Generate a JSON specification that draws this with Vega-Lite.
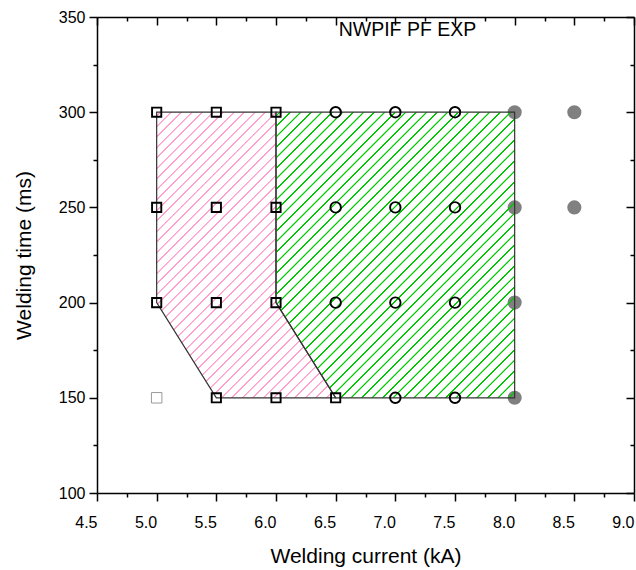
{
  "$schema": "https://vega.github.io/schema/vega-lite/v6.json",
  "width": 537,
  "height": 476,
  "autosize": {"type": "none"},
  "padding": {"left": 97, "top": 17, "right": 2, "bottom": 77},
  "background": "white",
  "config": {"view": {"stroke": null}, "font": "Liberation Sans"},
  "title": {"text": "NWPIF PF EXP", "anchor": "middle", "dx": 42, "dy": 29, "offset": -17, "baseline": "alphabetic", "fontSize": 19.5, "fontWeight": "normal", "color": "#000", "font": "Liberation Sans"},
  "datasets": {
    "pink": [
      {"y": 150, "x": 5.5, "x2": 6.5},
      {"y": 200, "x": 5.0, "x2": 6.0},
      {"y": 300, "x": 5.0, "x2": 6.0}
    ],
    "green": [
      {"y": 150, "x": 6.5, "x2": 8.0},
      {"y": 200, "x": 6.0, "x2": 8.0},
      {"y": 300, "x": 6.0, "x2": 8.0}
    ],
    "points": [
      {"x": 5.0, "y": 300, "kind": "square"},
      {"x": 5.0, "y": 250, "kind": "square"},
      {"x": 5.0, "y": 200, "kind": "square"},
      {"x": 5.0, "y": 150, "kind": "greysquare"},
      {"x": 5.5, "y": 300, "kind": "square"},
      {"x": 5.5, "y": 250, "kind": "square"},
      {"x": 5.5, "y": 200, "kind": "square"},
      {"x": 5.5, "y": 150, "kind": "square"},
      {"x": 6.0, "y": 300, "kind": "square"},
      {"x": 6.0, "y": 250, "kind": "square"},
      {"x": 6.0, "y": 200, "kind": "square"},
      {"x": 6.0, "y": 150, "kind": "square"},
      {"x": 6.5, "y": 150, "kind": "square"},
      {"x": 6.5, "y": 300, "kind": "circle"},
      {"x": 6.5, "y": 250, "kind": "circle"},
      {"x": 6.5, "y": 200, "kind": "circle"},
      {"x": 7.0, "y": 300, "kind": "circle"},
      {"x": 7.0, "y": 250, "kind": "circle"},
      {"x": 7.0, "y": 200, "kind": "circle"},
      {"x": 7.0, "y": 150, "kind": "circle"},
      {"x": 7.5, "y": 300, "kind": "circle"},
      {"x": 7.5, "y": 250, "kind": "circle"},
      {"x": 7.5, "y": 200, "kind": "circle"},
      {"x": 7.5, "y": 150, "kind": "circle"},
      {"x": 8.0, "y": 300, "kind": "filled"},
      {"x": 8.0, "y": 250, "kind": "filled"},
      {"x": 8.0, "y": 200, "kind": "filled"},
      {"x": 8.0, "y": 150, "kind": "filled"},
      {"x": 8.5, "y": 300, "kind": "filled"},
      {"x": 8.5, "y": 250, "kind": "filled"}
    ]
  },
  "layer": [
    {
      "data": {"name": "points"},
      "transform": [{"filter": "datum.kind === 'filled'"}],
      "mark": {"type": "point", "shape": "circle", "filled": true, "size": 200, "color": "#808080", "opacity": 1},
      "encoding": {
        "x": {"field": "x", "type": "quantitative", "scale": {"domain": [4.5, 9], "nice": false, "zero": false},
          "axis": {"orient": "bottom", "values": [4.5,4.75,5,5.25,5.5,5.75,6,6.25,6.5,6.75,7,7.25,7.5,7.75,8,8.25,8.5,8.75,9],
            "tickSize": {"condition": {"test": "round(datum.value*2) == datum.value*2", "value": 8}, "value": 4},
            "labelExpr": "round(datum.value*2) == datum.value*2 ? format(datum.value, '.1f') : ''",
            "labelAlign": "right", "labelFlush": false, "labelOverlap": false, "labelFontSize": 16, "labelColor": "#000", "labelPadding": 13,
            "tickColor": "#000", "tickWidth": 1.5, "domainColor": "#000", "domainWidth": 1.5, "grid": false,
            "title": "Welding current (kA)", "titleFontSize": 21, "titleFontWeight": "normal", "titleColor": "#000", "titlePadding": 15}},
        "y": {"field": "y", "type": "quantitative", "scale": {"domain": [100, 350], "nice": false, "zero": false},
          "axis": {"orient": "left", "values": [100,125,150,175,200,225,250,275,300,325,350],
            "tickSize": {"condition": {"test": "datum.value % 50 == 0", "value": 8}, "value": 4},
            "labelExpr": "datum.value % 50 == 0 ? '' + datum.value : ''",
            "labelFlush": false, "labelOverlap": false, "labelFontSize": 16, "labelColor": "#000", "labelPadding": 4, "labelBaseline": "middle",
            "tickColor": "#000", "tickWidth": 1.5, "domainColor": "#000", "domainWidth": 1.5, "grid": false,
            "title": "Welding time (ms)", "titleFontSize": 21, "titleFontWeight": "normal", "titleColor": "#000", "titlePadding": 24}}
      }
    },
    {
      "data": {"name": "pink"},
      "mark": {"type": "area", "orient": "horizontal", "interpolate": "linear", "stroke": "#333333", "strokeWidth": 1.2,
        "fill": {"gradient": "linear", "x1": 0, "y1": 0, "x2": 0.8272, "y2": 1.3198, "stops": [
{"offset":0.005,"color":"#ffa0d000"},{"offset":0.0058,"color":"#ffa0d0"},{"offset":0.0086,"color":"#ffa0d0"},{"offset":0.0094,"color":"#ffa0d000"},
{"offset":0.025,"color":"#ffa0d000"},{"offset":0.0258,"color":"#ffa0d0"},{"offset":0.0286,"color":"#ffa0d0"},{"offset":0.0294,"color":"#ffa0d000"},
{"offset":0.045,"color":"#ffa0d000"},{"offset":0.0458,"color":"#ffa0d0"},{"offset":0.0486,"color":"#ffa0d0"},{"offset":0.0494,"color":"#ffa0d000"},
{"offset":0.065,"color":"#ffa0d000"},{"offset":0.0658,"color":"#ffa0d0"},{"offset":0.0686,"color":"#ffa0d0"},{"offset":0.0694,"color":"#ffa0d000"},
{"offset":0.085,"color":"#ffa0d000"},{"offset":0.0858,"color":"#ffa0d0"},{"offset":0.0886,"color":"#ffa0d0"},{"offset":0.0894,"color":"#ffa0d000"},
{"offset":0.105,"color":"#ffa0d000"},{"offset":0.1058,"color":"#ffa0d0"},{"offset":0.1086,"color":"#ffa0d0"},{"offset":0.1094,"color":"#ffa0d000"},
{"offset":0.125,"color":"#ffa0d000"},{"offset":0.1258,"color":"#ffa0d0"},{"offset":0.1286,"color":"#ffa0d0"},{"offset":0.1294,"color":"#ffa0d000"},
{"offset":0.145,"color":"#ffa0d000"},{"offset":0.1458,"color":"#ffa0d0"},{"offset":0.1486,"color":"#ffa0d0"},{"offset":0.1494,"color":"#ffa0d000"},
{"offset":0.165,"color":"#ffa0d000"},{"offset":0.1658,"color":"#ffa0d0"},{"offset":0.1686,"color":"#ffa0d0"},{"offset":0.1694,"color":"#ffa0d000"},
{"offset":0.185,"color":"#ffa0d000"},{"offset":0.1858,"color":"#ffa0d0"},{"offset":0.1886,"color":"#ffa0d0"},{"offset":0.1894,"color":"#ffa0d000"},
{"offset":0.205,"color":"#ffa0d000"},{"offset":0.2058,"color":"#ffa0d0"},{"offset":0.2086,"color":"#ffa0d0"},{"offset":0.2094,"color":"#ffa0d000"},
{"offset":0.225,"color":"#ffa0d000"},{"offset":0.2258,"color":"#ffa0d0"},{"offset":0.2286,"color":"#ffa0d0"},{"offset":0.2294,"color":"#ffa0d000"},
{"offset":0.245,"color":"#ffa0d000"},{"offset":0.2458,"color":"#ffa0d0"},{"offset":0.2486,"color":"#ffa0d0"},{"offset":0.2494,"color":"#ffa0d000"},
{"offset":0.265,"color":"#ffa0d000"},{"offset":0.2658,"color":"#ffa0d0"},{"offset":0.2686,"color":"#ffa0d0"},{"offset":0.2694,"color":"#ffa0d000"},
{"offset":0.285,"color":"#ffa0d000"},{"offset":0.2858,"color":"#ffa0d0"},{"offset":0.2886,"color":"#ffa0d0"},{"offset":0.2894,"color":"#ffa0d000"},
{"offset":0.305,"color":"#ffa0d000"},{"offset":0.3058,"color":"#ffa0d0"},{"offset":0.3086,"color":"#ffa0d0"},{"offset":0.3094,"color":"#ffa0d000"},
{"offset":0.325,"color":"#ffa0d000"},{"offset":0.3258,"color":"#ffa0d0"},{"offset":0.3286,"color":"#ffa0d0"},{"offset":0.3294,"color":"#ffa0d000"},
{"offset":0.345,"color":"#ffa0d000"},{"offset":0.3458,"color":"#ffa0d0"},{"offset":0.3486,"color":"#ffa0d0"},{"offset":0.3494,"color":"#ffa0d000"},
{"offset":0.365,"color":"#ffa0d000"},{"offset":0.3658,"color":"#ffa0d0"},{"offset":0.3686,"color":"#ffa0d0"},{"offset":0.3694,"color":"#ffa0d000"},
{"offset":0.385,"color":"#ffa0d000"},{"offset":0.3858,"color":"#ffa0d0"},{"offset":0.3886,"color":"#ffa0d0"},{"offset":0.3894,"color":"#ffa0d000"},
{"offset":0.405,"color":"#ffa0d000"},{"offset":0.4058,"color":"#ffa0d0"},{"offset":0.4086,"color":"#ffa0d0"},{"offset":0.4094,"color":"#ffa0d000"},
{"offset":0.425,"color":"#ffa0d000"},{"offset":0.4258,"color":"#ffa0d0"},{"offset":0.4286,"color":"#ffa0d0"},{"offset":0.4294,"color":"#ffa0d000"},
{"offset":0.445,"color":"#ffa0d000"},{"offset":0.4458,"color":"#ffa0d0"},{"offset":0.4486,"color":"#ffa0d0"},{"offset":0.4494,"color":"#ffa0d000"},
{"offset":0.465,"color":"#ffa0d000"},{"offset":0.4658,"color":"#ffa0d0"},{"offset":0.4686,"color":"#ffa0d0"},{"offset":0.4694,"color":"#ffa0d000"},
{"offset":0.485,"color":"#ffa0d000"},{"offset":0.4858,"color":"#ffa0d0"},{"offset":0.4886,"color":"#ffa0d0"},{"offset":0.4894,"color":"#ffa0d000"},
{"offset":0.505,"color":"#ffa0d000"},{"offset":0.5058,"color":"#ffa0d0"},{"offset":0.5086,"color":"#ffa0d0"},{"offset":0.5094,"color":"#ffa0d000"},
{"offset":0.525,"color":"#ffa0d000"},{"offset":0.5258,"color":"#ffa0d0"},{"offset":0.5286,"color":"#ffa0d0"},{"offset":0.5294,"color":"#ffa0d000"},
{"offset":0.545,"color":"#ffa0d000"},{"offset":0.5458,"color":"#ffa0d0"},{"offset":0.5486,"color":"#ffa0d0"},{"offset":0.5494,"color":"#ffa0d000"},
{"offset":0.565,"color":"#ffa0d000"},{"offset":0.5658,"color":"#ffa0d0"},{"offset":0.5686,"color":"#ffa0d0"},{"offset":0.5694,"color":"#ffa0d000"},
{"offset":0.585,"color":"#ffa0d000"},{"offset":0.5858,"color":"#ffa0d0"},{"offset":0.5886,"color":"#ffa0d0"},{"offset":0.5894,"color":"#ffa0d000"},
{"offset":0.605,"color":"#ffa0d000"},{"offset":0.6058,"color":"#ffa0d0"},{"offset":0.6086,"color":"#ffa0d0"},{"offset":0.6094,"color":"#ffa0d000"},
{"offset":0.625,"color":"#ffa0d000"},{"offset":0.6258,"color":"#ffa0d0"},{"offset":0.6286,"color":"#ffa0d0"},{"offset":0.6294,"color":"#ffa0d000"},
{"offset":0.645,"color":"#ffa0d000"},{"offset":0.6458,"color":"#ffa0d0"},{"offset":0.6486,"color":"#ffa0d0"},{"offset":0.6494,"color":"#ffa0d000"},
{"offset":0.665,"color":"#ffa0d000"},{"offset":0.6658,"color":"#ffa0d0"},{"offset":0.6686,"color":"#ffa0d0"},{"offset":0.6694,"color":"#ffa0d000"},
{"offset":0.685,"color":"#ffa0d000"},{"offset":0.6858,"color":"#ffa0d0"},{"offset":0.6886,"color":"#ffa0d0"},{"offset":0.6894,"color":"#ffa0d000"},
{"offset":0.705,"color":"#ffa0d000"},{"offset":0.7058,"color":"#ffa0d0"},{"offset":0.7086,"color":"#ffa0d0"},{"offset":0.7094,"color":"#ffa0d000"},
{"offset":0.725,"color":"#ffa0d000"},{"offset":0.7258,"color":"#ffa0d0"},{"offset":0.7286,"color":"#ffa0d0"},{"offset":0.7294,"color":"#ffa0d000"},
{"offset":0.745,"color":"#ffa0d000"},{"offset":0.7458,"color":"#ffa0d0"},{"offset":0.7486,"color":"#ffa0d0"},{"offset":0.7494,"color":"#ffa0d000"},
{"offset":0.765,"color":"#ffa0d000"},{"offset":0.7658,"color":"#ffa0d0"},{"offset":0.7686,"color":"#ffa0d0"},{"offset":0.7694,"color":"#ffa0d000"},
{"offset":0.785,"color":"#ffa0d000"},{"offset":0.7858,"color":"#ffa0d0"},{"offset":0.7886,"color":"#ffa0d0"},{"offset":0.7894,"color":"#ffa0d000"},
{"offset":0.805,"color":"#ffa0d000"},{"offset":0.8058,"color":"#ffa0d0"},{"offset":0.8086,"color":"#ffa0d0"},{"offset":0.8094,"color":"#ffa0d000"},
{"offset":0.825,"color":"#ffa0d000"},{"offset":0.8258,"color":"#ffa0d0"},{"offset":0.8286,"color":"#ffa0d0"},{"offset":0.8294,"color":"#ffa0d000"},
{"offset":0.845,"color":"#ffa0d000"},{"offset":0.8458,"color":"#ffa0d0"},{"offset":0.8486,"color":"#ffa0d0"},{"offset":0.8494,"color":"#ffa0d000"},
{"offset":0.865,"color":"#ffa0d000"},{"offset":0.8658,"color":"#ffa0d0"},{"offset":0.8686,"color":"#ffa0d0"},{"offset":0.8694,"color":"#ffa0d000"},
{"offset":0.885,"color":"#ffa0d000"},{"offset":0.8858,"color":"#ffa0d0"},{"offset":0.8886,"color":"#ffa0d0"},{"offset":0.8894,"color":"#ffa0d000"},
{"offset":0.905,"color":"#ffa0d000"},{"offset":0.9058,"color":"#ffa0d0"},{"offset":0.9086,"color":"#ffa0d0"},{"offset":0.9094,"color":"#ffa0d000"},
{"offset":0.925,"color":"#ffa0d000"},{"offset":0.9258,"color":"#ffa0d0"},{"offset":0.9286,"color":"#ffa0d0"},{"offset":0.9294,"color":"#ffa0d000"},
{"offset":0.945,"color":"#ffa0d000"},{"offset":0.9458,"color":"#ffa0d0"},{"offset":0.9486,"color":"#ffa0d0"},{"offset":0.9494,"color":"#ffa0d000"},
{"offset":0.965,"color":"#ffa0d000"},{"offset":0.9658,"color":"#ffa0d0"},{"offset":0.9686,"color":"#ffa0d0"},{"offset":0.9694,"color":"#ffa0d000"},
{"offset":0.985,"color":"#ffa0d000"},{"offset":0.9858,"color":"#ffa0d0"},{"offset":0.9886,"color":"#ffa0d0"},{"offset":0.9894,"color":"#ffa0d000"}
        ]}},
      "encoding": {
        "y": {"field": "y", "type": "quantitative", "scale": {"domain": [100, 350], "nice": false, "zero": false},
          "axis": {"orient": "right", "values": [100,125,150,175,200,225,250,275,300,325,350],
            "tickSize": {"condition": {"test": "datum.value % 50 == 0", "value": -8}, "value": -4},
            "labels": false, "tickColor": "#000", "tickWidth": 1.5, "domainColor": "#000", "domainWidth": 1.5, "grid": false, "title": null}},
        "x": {"field": "x", "type": "quantitative", "scale": {"domain": [4.5, 9], "nice": false, "zero": false},
          "axis": {"orient": "top", "values": [4.5,4.75,5,5.25,5.5,5.75,6,6.25,6.5,6.75,7,7.25,7.5,7.75,8,8.25,8.5,8.75,9],
            "tickSize": {"condition": {"test": "round(datum.value*2) == datum.value*2", "value": -8}, "value": -4},
            "labels": false, "tickColor": "#000", "tickWidth": 1.5, "domainColor": "#000", "domainWidth": 1.5, "grid": false, "title": null}},
        "x2": {"field": "x2"}
      }
    },
    {
      "data": {"name": "green"},
      "mark": {"type": "area", "orient": "horizontal", "interpolate": "linear", "stroke": "#333333", "strokeWidth": 1.2,
        "fill": {"gradient": "linear", "x1": 0, "y1": 0, "x2": 0.9045, "y2": 1.0822, "stops": [
{"offset":0.005,"color":"#00c80000"},{"offset":0.0058,"color":"#00c800"},{"offset":0.0086,"color":"#00c800"},{"offset":0.0094,"color":"#00c80000"},
{"offset":0.025,"color":"#00c80000"},{"offset":0.0258,"color":"#00c800"},{"offset":0.0286,"color":"#00c800"},{"offset":0.0294,"color":"#00c80000"},
{"offset":0.045,"color":"#00c80000"},{"offset":0.0458,"color":"#00c800"},{"offset":0.0486,"color":"#00c800"},{"offset":0.0494,"color":"#00c80000"},
{"offset":0.065,"color":"#00c80000"},{"offset":0.0658,"color":"#00c800"},{"offset":0.0686,"color":"#00c800"},{"offset":0.0694,"color":"#00c80000"},
{"offset":0.085,"color":"#00c80000"},{"offset":0.0858,"color":"#00c800"},{"offset":0.0886,"color":"#00c800"},{"offset":0.0894,"color":"#00c80000"},
{"offset":0.105,"color":"#00c80000"},{"offset":0.1058,"color":"#00c800"},{"offset":0.1086,"color":"#00c800"},{"offset":0.1094,"color":"#00c80000"},
{"offset":0.125,"color":"#00c80000"},{"offset":0.1258,"color":"#00c800"},{"offset":0.1286,"color":"#00c800"},{"offset":0.1294,"color":"#00c80000"},
{"offset":0.145,"color":"#00c80000"},{"offset":0.1458,"color":"#00c800"},{"offset":0.1486,"color":"#00c800"},{"offset":0.1494,"color":"#00c80000"},
{"offset":0.165,"color":"#00c80000"},{"offset":0.1658,"color":"#00c800"},{"offset":0.1686,"color":"#00c800"},{"offset":0.1694,"color":"#00c80000"},
{"offset":0.185,"color":"#00c80000"},{"offset":0.1858,"color":"#00c800"},{"offset":0.1886,"color":"#00c800"},{"offset":0.1894,"color":"#00c80000"},
{"offset":0.205,"color":"#00c80000"},{"offset":0.2058,"color":"#00c800"},{"offset":0.2086,"color":"#00c800"},{"offset":0.2094,"color":"#00c80000"},
{"offset":0.225,"color":"#00c80000"},{"offset":0.2258,"color":"#00c800"},{"offset":0.2286,"color":"#00c800"},{"offset":0.2294,"color":"#00c80000"},
{"offset":0.245,"color":"#00c80000"},{"offset":0.2458,"color":"#00c800"},{"offset":0.2486,"color":"#00c800"},{"offset":0.2494,"color":"#00c80000"},
{"offset":0.265,"color":"#00c80000"},{"offset":0.2658,"color":"#00c800"},{"offset":0.2686,"color":"#00c800"},{"offset":0.2694,"color":"#00c80000"},
{"offset":0.285,"color":"#00c80000"},{"offset":0.2858,"color":"#00c800"},{"offset":0.2886,"color":"#00c800"},{"offset":0.2894,"color":"#00c80000"},
{"offset":0.305,"color":"#00c80000"},{"offset":0.3058,"color":"#00c800"},{"offset":0.3086,"color":"#00c800"},{"offset":0.3094,"color":"#00c80000"},
{"offset":0.325,"color":"#00c80000"},{"offset":0.3258,"color":"#00c800"},{"offset":0.3286,"color":"#00c800"},{"offset":0.3294,"color":"#00c80000"},
{"offset":0.345,"color":"#00c80000"},{"offset":0.3458,"color":"#00c800"},{"offset":0.3486,"color":"#00c800"},{"offset":0.3494,"color":"#00c80000"},
{"offset":0.365,"color":"#00c80000"},{"offset":0.3658,"color":"#00c800"},{"offset":0.3686,"color":"#00c800"},{"offset":0.3694,"color":"#00c80000"},
{"offset":0.385,"color":"#00c80000"},{"offset":0.3858,"color":"#00c800"},{"offset":0.3886,"color":"#00c800"},{"offset":0.3894,"color":"#00c80000"},
{"offset":0.405,"color":"#00c80000"},{"offset":0.4058,"color":"#00c800"},{"offset":0.4086,"color":"#00c800"},{"offset":0.4094,"color":"#00c80000"},
{"offset":0.425,"color":"#00c80000"},{"offset":0.4258,"color":"#00c800"},{"offset":0.4286,"color":"#00c800"},{"offset":0.4294,"color":"#00c80000"},
{"offset":0.445,"color":"#00c80000"},{"offset":0.4458,"color":"#00c800"},{"offset":0.4486,"color":"#00c800"},{"offset":0.4494,"color":"#00c80000"},
{"offset":0.465,"color":"#00c80000"},{"offset":0.4658,"color":"#00c800"},{"offset":0.4686,"color":"#00c800"},{"offset":0.4694,"color":"#00c80000"},
{"offset":0.485,"color":"#00c80000"},{"offset":0.4858,"color":"#00c800"},{"offset":0.4886,"color":"#00c800"},{"offset":0.4894,"color":"#00c80000"},
{"offset":0.505,"color":"#00c80000"},{"offset":0.5058,"color":"#00c800"},{"offset":0.5086,"color":"#00c800"},{"offset":0.5094,"color":"#00c80000"},
{"offset":0.525,"color":"#00c80000"},{"offset":0.5258,"color":"#00c800"},{"offset":0.5286,"color":"#00c800"},{"offset":0.5294,"color":"#00c80000"},
{"offset":0.545,"color":"#00c80000"},{"offset":0.5458,"color":"#00c800"},{"offset":0.5486,"color":"#00c800"},{"offset":0.5494,"color":"#00c80000"},
{"offset":0.565,"color":"#00c80000"},{"offset":0.5658,"color":"#00c800"},{"offset":0.5686,"color":"#00c800"},{"offset":0.5694,"color":"#00c80000"},
{"offset":0.585,"color":"#00c80000"},{"offset":0.5858,"color":"#00c800"},{"offset":0.5886,"color":"#00c800"},{"offset":0.5894,"color":"#00c80000"},
{"offset":0.605,"color":"#00c80000"},{"offset":0.6058,"color":"#00c800"},{"offset":0.6086,"color":"#00c800"},{"offset":0.6094,"color":"#00c80000"},
{"offset":0.625,"color":"#00c80000"},{"offset":0.6258,"color":"#00c800"},{"offset":0.6286,"color":"#00c800"},{"offset":0.6294,"color":"#00c80000"},
{"offset":0.645,"color":"#00c80000"},{"offset":0.6458,"color":"#00c800"},{"offset":0.6486,"color":"#00c800"},{"offset":0.6494,"color":"#00c80000"},
{"offset":0.665,"color":"#00c80000"},{"offset":0.6658,"color":"#00c800"},{"offset":0.6686,"color":"#00c800"},{"offset":0.6694,"color":"#00c80000"},
{"offset":0.685,"color":"#00c80000"},{"offset":0.6858,"color":"#00c800"},{"offset":0.6886,"color":"#00c800"},{"offset":0.6894,"color":"#00c80000"},
{"offset":0.705,"color":"#00c80000"},{"offset":0.7058,"color":"#00c800"},{"offset":0.7086,"color":"#00c800"},{"offset":0.7094,"color":"#00c80000"},
{"offset":0.725,"color":"#00c80000"},{"offset":0.7258,"color":"#00c800"},{"offset":0.7286,"color":"#00c800"},{"offset":0.7294,"color":"#00c80000"},
{"offset":0.745,"color":"#00c80000"},{"offset":0.7458,"color":"#00c800"},{"offset":0.7486,"color":"#00c800"},{"offset":0.7494,"color":"#00c80000"},
{"offset":0.765,"color":"#00c80000"},{"offset":0.7658,"color":"#00c800"},{"offset":0.7686,"color":"#00c800"},{"offset":0.7694,"color":"#00c80000"},
{"offset":0.785,"color":"#00c80000"},{"offset":0.7858,"color":"#00c800"},{"offset":0.7886,"color":"#00c800"},{"offset":0.7894,"color":"#00c80000"},
{"offset":0.805,"color":"#00c80000"},{"offset":0.8058,"color":"#00c800"},{"offset":0.8086,"color":"#00c800"},{"offset":0.8094,"color":"#00c80000"},
{"offset":0.825,"color":"#00c80000"},{"offset":0.8258,"color":"#00c800"},{"offset":0.8286,"color":"#00c800"},{"offset":0.8294,"color":"#00c80000"},
{"offset":0.845,"color":"#00c80000"},{"offset":0.8458,"color":"#00c800"},{"offset":0.8486,"color":"#00c800"},{"offset":0.8494,"color":"#00c80000"},
{"offset":0.865,"color":"#00c80000"},{"offset":0.8658,"color":"#00c800"},{"offset":0.8686,"color":"#00c800"},{"offset":0.8694,"color":"#00c80000"},
{"offset":0.885,"color":"#00c80000"},{"offset":0.8858,"color":"#00c800"},{"offset":0.8886,"color":"#00c800"},{"offset":0.8894,"color":"#00c80000"},
{"offset":0.905,"color":"#00c80000"},{"offset":0.9058,"color":"#00c800"},{"offset":0.9086,"color":"#00c800"},{"offset":0.9094,"color":"#00c80000"},
{"offset":0.925,"color":"#00c80000"},{"offset":0.9258,"color":"#00c800"},{"offset":0.9286,"color":"#00c800"},{"offset":0.9294,"color":"#00c80000"},
{"offset":0.945,"color":"#00c80000"},{"offset":0.9458,"color":"#00c800"},{"offset":0.9486,"color":"#00c800"},{"offset":0.9494,"color":"#00c80000"},
{"offset":0.965,"color":"#00c80000"},{"offset":0.9658,"color":"#00c800"},{"offset":0.9686,"color":"#00c800"},{"offset":0.9694,"color":"#00c80000"},
{"offset":0.985,"color":"#00c80000"},{"offset":0.9858,"color":"#00c800"},{"offset":0.9886,"color":"#00c800"},{"offset":0.9894,"color":"#00c80000"}
        ]}},
      "encoding": {
        "y": {"field": "y", "type": "quantitative", "scale": {"domain": [100, 350], "nice": false, "zero": false}, "axis": null},
        "x": {"field": "x", "type": "quantitative", "scale": {"domain": [4.5, 9], "nice": false, "zero": false}, "axis": null},
        "x2": {"field": "x2"}
      }
    },
    {
      "data": {"name": "points"},
      "transform": [{"filter": "datum.kind === 'square'"}],
      "mark": {"type": "point", "shape": "square", "filled": false, "size": 85, "stroke": "#000", "strokeWidth": 1.9, "opacity": 1},
      "encoding": {
        "x": {"field": "x", "type": "quantitative", "axis": null},
        "y": {"field": "y", "type": "quantitative", "axis": null}
      }
    },
    {
      "data": {"name": "points"},
      "transform": [{"filter": "datum.kind === 'greysquare'"}],
      "mark": {"type": "point", "shape": "square", "filled": false, "size": 110, "stroke": "#9a9a9a", "strokeWidth": 1, "opacity": 1},
      "encoding": {
        "x": {"field": "x", "type": "quantitative", "axis": null},
        "y": {"field": "y", "type": "quantitative", "axis": null}
      }
    },
    {
      "data": {"name": "points"},
      "transform": [{"filter": "datum.kind === 'circle'"}],
      "mark": {"type": "point", "shape": "circle", "filled": false, "size": 110, "stroke": "#000", "strokeWidth": 1.9, "opacity": 1},
      "encoding": {
        "x": {"field": "x", "type": "quantitative", "axis": null},
        "y": {"field": "y", "type": "quantitative", "axis": null}
      }
    }
  ],
  "resolve": {"axis": {"x": "independent", "y": "independent"}}
}
